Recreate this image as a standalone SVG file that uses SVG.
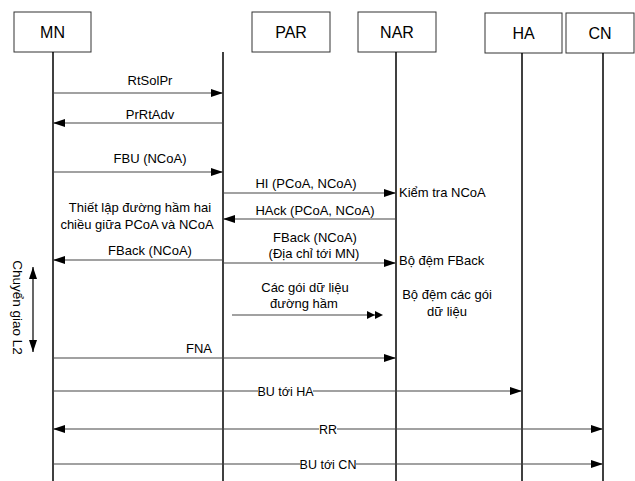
<svg xmlns="http://www.w3.org/2000/svg" width="635" height="481" viewBox="0 0 635 481">
<style>
text{font-family:"Liberation Sans",Arial,sans-serif;font-size:13px;fill:#000}
.box{fill:#fff;stroke:#333;stroke-width:1}
.bl{font-size:16px;text-anchor:middle}
.life{stroke:#000;stroke-width:1.5}
.msg{stroke:#444;stroke-width:1.2;fill:none}
.c{text-anchor:middle}
.sm{font-size:12.5px;text-anchor:middle}
</style>
<defs>
<marker id="ah" viewBox="0 0 12 8" refX="12" refY="4" markerWidth="12" markerHeight="8" markerUnits="userSpaceOnUse" orient="auto-start-reverse">
<path d="M0,0 L12,4 L0,8 Z" fill="#000"/>
</marker>
</defs>
<rect width="635" height="481" fill="#fff"/>
<g id="MN"><rect class="box" x="14" y="12" width="77" height="40"/><text class="bl" x="52.5" y="38">MN</text><line class="life" x1="53" y1="52" x2="53" y2="481"/></g>
<g id="PAR"><rect class="box" x="252" y="12" width="78" height="40"/><text class="bl" x="291" y="38">PAR</text><line class="life" x1="223" y1="52" x2="223" y2="481"/></g>
<g id="NAR"><rect class="box" x="358" y="12" width="78" height="40"/><text class="bl" x="397" y="38">NAR</text><line class="life" x1="396" y1="52" x2="396" y2="481"/></g>
<g id="HA"><rect class="box" x="485" y="13" width="77" height="40"/><text class="bl" x="523.5" y="39">HA</text><line class="life" x1="522" y1="53" x2="522" y2="481"/></g>
<g id="CN"><rect class="box" x="566" y="13" width="68" height="40"/><text class="bl" x="600" y="39">CN</text><line class="life" x1="603" y1="53" x2="603" y2="481"/></g>
<g id="connectors">
<line class="msg" x1="53" y1="93" x2="223" y2="93" marker-end="url(#ah)"/>
<text class="c" x="150" y="84.5">RtSolPr</text>
<line class="msg" x1="223" y1="123" x2="53" y2="123" marker-end="url(#ah)"/>
<text class="c" x="150" y="118.5">PrRtAdv</text>
<line class="msg" x1="53" y1="172" x2="223" y2="172" marker-end="url(#ah)"/>
<text class="c" x="150" y="162.5">FBU (NCoA)</text>
<line class="msg" x1="223" y1="193" x2="396" y2="193" marker-end="url(#ah)"/>
<text class="c" x="306" y="187.5">HI (PCoA, NCoA)</text>
<text x="399" y="196.5">Kiểm tra NCoA</text>
<line class="msg" x1="396" y1="219" x2="223" y2="219" marker-end="url(#ah)"/>
<text class="c" x="315" y="214.5">HAck (PCoA, NCoA)</text>
<text class="c" x="140" y="211.5">Thiết lập đường hầm hai</text>
<text class="c" x="137" y="228.5">chiều giữa PCoA và NCoA</text>
<text class="c" x="315" y="241.5">FBack (NCoA)</text>
<text class="c" x="314" y="257.5">(Địa chỉ tới MN)</text>
<line class="msg" x1="223" y1="263" x2="396" y2="263" marker-end="url(#ah)"/>
<text x="399" y="264.5">Bộ đệm FBack</text>
<line class="msg" x1="223" y1="260" x2="53" y2="260" marker-end="url(#ah)"/>
<text class="c" x="150" y="254.5">FBack (NCoA)</text>
<text class="c" x="305" y="291.5">Các gói dữ liệu</text>
<text class="c" x="304" y="307.5">đường hầm</text>
<line class="msg" x1="232" y1="315" x2="375" y2="315"/>
<path d="M367,311 L375,315 L367,319 Z M375,311 L383,315 L375,319 Z" fill="#000"/>
<text class="c" x="447" y="298.5">Bộ đệm các gói</text>
<text class="c" x="447" y="315.5">dữ liệu</text>
<line class="msg" x1="53" y1="358" x2="396" y2="358" marker-end="url(#ah)"/>
<text class="c" x="199" y="352.5">FNA</text>
<line stroke="#000" stroke-width="1.2" x1="33" y1="267" x2="33" y2="352" marker-start="url(#ah)" marker-end="url(#ah)"/>
<text class="c" transform="translate(12.5,307.5) rotate(90)" style="font-size:13.5px">Chuyển giao L2</text>
<line class="msg" x1="53" y1="391" x2="522" y2="391" marker-end="url(#ah)"/>
<rect x="258" y="384" width="55" height="14" fill="#fff"/>
<text class="sm" x="285.5" y="395.5">BU tới HA</text>
<line class="msg" stroke="#000" x1="53" y1="429" x2="603" y2="429" marker-start="url(#ah)" marker-end="url(#ah)"/>
<rect x="319" y="422" width="18" height="14" fill="#fff"/>
<text class="sm" x="328" y="433.5">RR</text>
<line class="msg" x1="53" y1="464" x2="603" y2="464" marker-end="url(#ah)"/>
<rect x="300" y="457" width="56" height="14" fill="#fff"/>
<text class="sm" x="328" y="468.5">BU tới CN</text>
</g>
</svg>
